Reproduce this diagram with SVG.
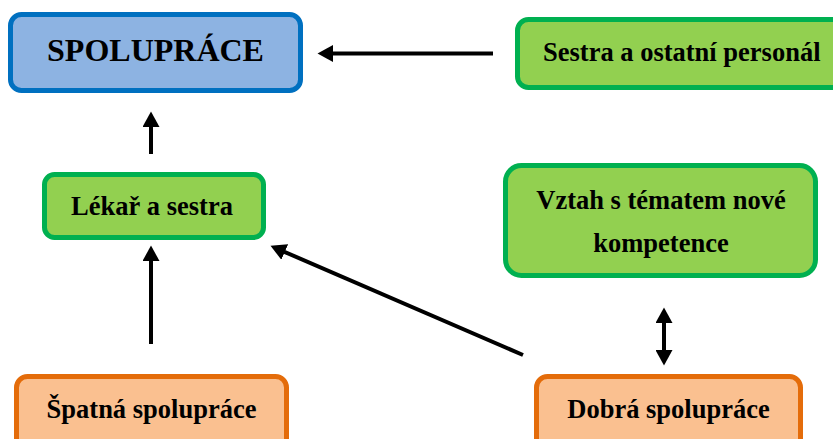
<svg xmlns="http://www.w3.org/2000/svg" width="833" height="439" viewBox="0 0 833 439">
<defs>
<style>
.t{font-family:"Liberation Serif","Times New Roman",serif;font-weight:bold;font-size:26.5px;fill:#000}
.title{font-size:32px}
.g{fill:#92D050;stroke:#00B050;stroke-width:5}
.b{fill:#8DB3E2;stroke:#0070C0;stroke-width:5}
.o{fill:#FAC090;stroke:#E46C0A;stroke-width:5}
.c{stroke:#000;stroke-width:4;fill:none;marker-end:url(#ah)}
</style>
<marker id="ah" markerUnits="userSpaceOnUse" markerWidth="16" markerHeight="17" refX="3" refY="8.5" orient="auto-start-reverse" viewBox="0 0 16 17">
<path d="M0,0 L15.5,8.5 L0,17 z" fill="#000"/>
</marker>
</defs>
<rect width="833" height="439" fill="#fff"/>
<g id="spoluprace">
<rect class="b" x="10.5" y="14.5" width="290" height="76" rx="11"/>
<text class="t title" x="155.5" y="60.5" text-anchor="middle">SPOLUPRÁCE</text>
</g>
<g id="sestra-personal">
<rect class="g" x="517.5" y="19.5" width="330" height="68" rx="11"/>
<text class="t" x="543" y="61">Sestra a ostatní personál</text>
</g>
<g id="lekar-sestra">
<rect class="g" x="44.5" y="174.5" width="219" height="63" rx="10"/>
<text class="t" x="152" y="215" text-anchor="middle">Lékař a sestra</text>
</g>
<g id="vztah">
<rect class="g" x="505.5" y="165.5" width="310" height="110" rx="16"/>
<text class="t" x="661" y="209" text-anchor="middle">Vztah s tématem nové</text>
<text class="t" x="661" y="252" text-anchor="middle">kompetence</text>
</g>
<g id="spatna">
<rect class="o" x="16.5" y="376.5" width="270" height="75" rx="11"/>
<text class="t" x="151.5" y="417.5" text-anchor="middle">Špatná spolupráce</text>
</g>
<g id="dobra">
<rect class="o" x="536.5" y="376.5" width="264" height="75" rx="11"/>
<text class="t" x="668.5" y="418" text-anchor="middle">Dobrá spolupráce</text>
</g>
<g id="connectors">
<line class="c" x1="493" y1="53.5" x2="330" y2="53.5"/>
<line class="c" x1="151" y1="154" x2="151" y2="124"/>
<line class="c" x1="151" y1="344" x2="151" y2="258"/>
<line class="c" x1="523" y1="355" x2="282" y2="250.8"/>
<line class="c" x1="664" y1="320" x2="664" y2="353" style="marker-start:url(#ah)"/>
</g>
</svg>
